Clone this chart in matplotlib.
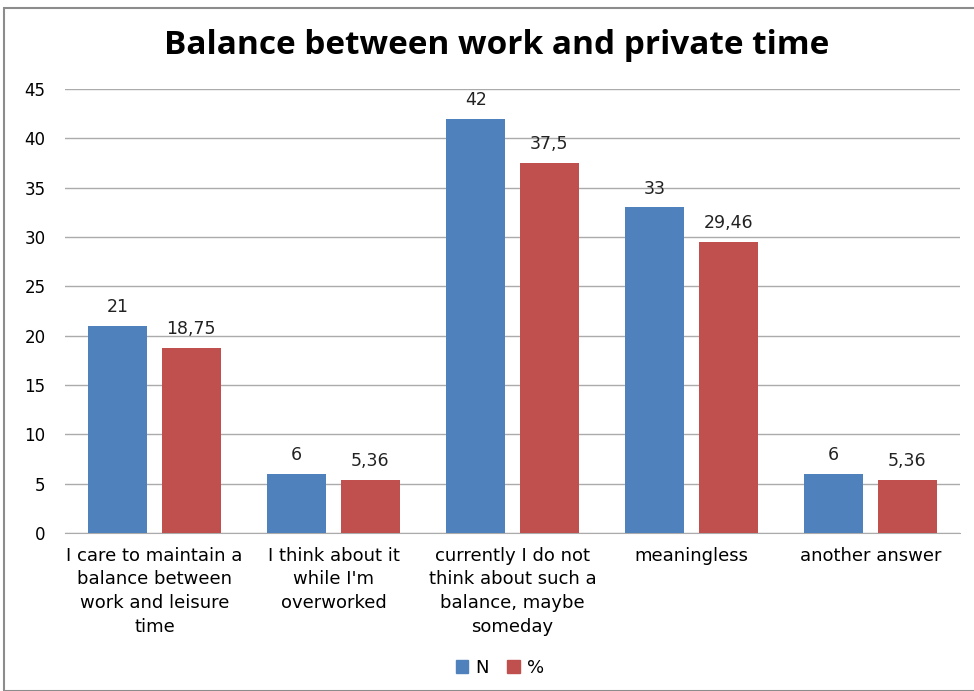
import numpy as np
import matplotlib.pyplot as plt
from matplotlib.patches import Rectangle

categories = ["I care to maintain a\nbalance between\nwork and leisure\ntime",
              "I think about it\nwhile I'm\noverworked",
              "currently I do not\nthink about such a\nbalance, maybe\nsomeday",
              "meaningless",
              "another answer"]
n_values = [21, 6, 42, 33, 6]
pct_values = [18.75, 5.36, 37.5, 29.46, 5.36]
pct_labels = ["18,75", "5,36", "37,5", "29,46", "5,36"]

blue = "#4f81bd"
red = "#c0504d"

fig = plt.figure(figsize=(9.74, 6.91), dpi=100)
fig.patches.append(Rectangle((4 / 974, 0), 1, 1 - 8 / 691, transform=fig.transFigure,
                             fill=False, edgecolor="#8c8c8c", linewidth=1.5))
ax = fig.add_axes([65 / 974, 1 - 533 / 691, 895 / 974, 444 / 691])

x = np.arange(len(categories))
w = 0.33
b1 = ax.bar(x - 0.205, n_values, w, color=blue, zorder=3)
b2 = ax.bar(x + 0.205, pct_values, w, color=red, zorder=3)

for rect, v in zip(b1, n_values):
    ax.text(rect.get_x() + rect.get_width() / 2, v + 1.0, str(v), ha="center", va="bottom",
            fontsize=12.5, color="#222222")
for rect, v, lab in zip(b2, pct_values, pct_labels):
    ax.text(rect.get_x() + rect.get_width() / 2, v + 1.0, lab, ha="center", va="bottom",
            fontsize=12.5, color="#222222")

ax.set_xlim(-0.5, len(categories) - 0.5)
ax.set_ylim(0, 45)
ax.set_yticks(range(0, 46, 5))
ax.tick_params(axis="y", length=0, labelsize=12, pad=14)
ax.tick_params(axis="x", length=0, labelsize=13, pad=10)
ax.set_xticks(x)
ax.set_xticklabels(categories, linespacing=1.4)
ax.grid(axis="y", color="#ababab", linewidth=1, zorder=0)
for s in ["top", "right", "left"]:
    ax.spines[s].set_visible(False)
ax.spines["bottom"].set_color("#ababab")

fig.text(497 / 974, 1 - 46 / 691, "Balance between work and private time", ha="center", va="center",
         fontsize=24, fontweight="bold", family="Open Sans")

handles = [Rectangle((0, 0), 1, 1, color=blue), Rectangle((0, 0), 1, 1, color=red)]
fig.legend(handles, ["N", "%"], loc="center", bbox_to_anchor=(500 / 974, 1 - 668 / 691),
           ncol=2, frameon=False, fontsize=13, handlelength=0.7, handleheight=0.7,
           handletextpad=0.4, columnspacing=1.0)

fig.savefig("out.png", dpi=100)
